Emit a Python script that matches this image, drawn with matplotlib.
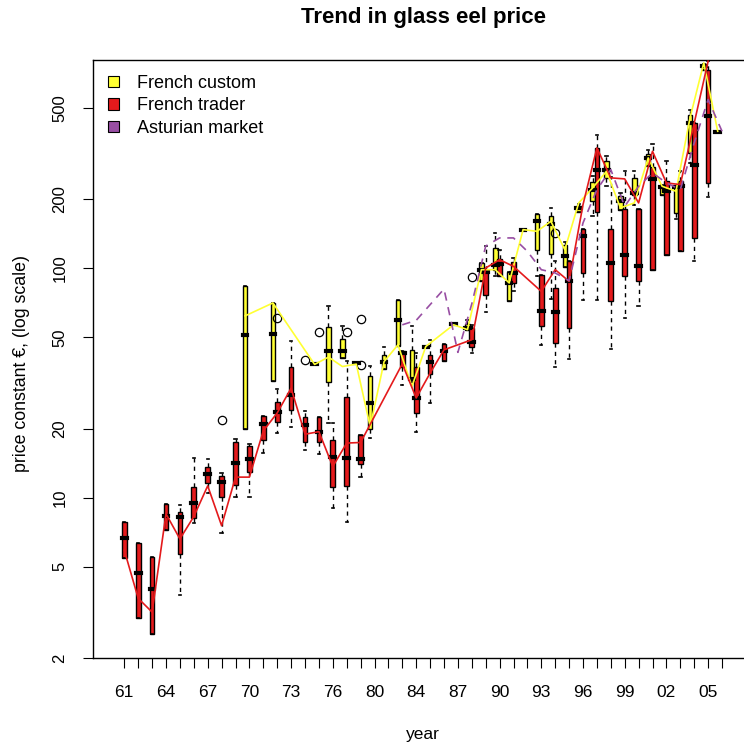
import matplotlib
matplotlib.use('Agg')
import matplotlib.pyplot as plt
from matplotlib.patches import Patch
from matplotlib.ticker import NullLocator

plt.rcParams['font.family'] = ['Liberation Sans', 'DejaVu Sans']

# ---------------- data ----------------
years = ['61', '62', '63', '64', '65', '66', '67', '68', '69', '70', '71', '72', '73', '74',
         '75', '76', '77', '78', '80', '82', '83', '84', '85', '86', '87', '88', '89', '90',
         '91', '92', '93', '94', '95', '96', '97', '98', '99', '00', '01', '02', '03', '04',
         '05', '06']

# French custom (yellow) boxes: index into years
custom_idx = [9, 11, 14, 15, 16, 17, 18, 19, 20, 21, 22, 24, 25, 26, 27, 28, 29, 30, 31,
              32, 33, 34, 35, 36, 37, 38, 39, 40, 41, 42, 43]
custom_lo = [19.9, 32.3, 38.1, 21.1, 40.6, 38.6, 18.2, 36.4, 46.0, 32.0, 45.6, 56.9, 53.6,
             87.7, 92.8, 72, 147.4, 92.2, 73.7, 100.9, 176.6, 169.6, 227.8, 180.2, 188.2,
             278.4, 209.4, 164.6, 288, 735, 393]
custom_q1 = [19.9, 32.3, 38.1, 31.9, 40.6, 38.6, 19.9, 36.4, 46.0, 32.0, 45.6, 56.9, 53.6,
             87.7, 98.6, 72, 147.4, 120.5, 115.8, 100.9, 176.6, 195.8, 247.8, 180.2, 209.4,
             278.4, 209.4, 174.3, 318.4, 735, 393]
custom_med = [51.3, 51.8, 38.1, 43.4, 43.7, 38.6, 25.8, 39.2, 59.7, 33.0, 45.6, 56.9, 55.0,
              98.6, 103.7, 86, 147.4, 160.2, 156.5, 112.7, 183.8, 220.3, 269.2, 195.8, 213,
              302.8, 225.5, 225, 430.4, 760, 393]
custom_q3 = [83.4, 70.6, 38.1, 55.4, 49.3, 38.6, 33.8, 42.0, 72.9, 44.1, 45.6, 56.9, 57.3,
             105.5, 122.6, 96, 147.4, 173, 168.4, 125.9, 187.6, 237, 292.8, 207.4, 247.8,
             315.2, 230, 227.8, 467.8, 778.6, 393]
custom_hi = [83.4, 70.6, 38.1, 68.7, 56.2, 38.6, 37.6, 45.2, 72.9, 55.8, 45.6, 56.9, 59.5,
             105.5, 142.6, 96, 147.4, 173, 183.3, 130, 190, 251.7, 307.8, 212, 264.8,
             327, 230, 227.8, 492, 778.6, 393]

# French trader (red) boxes
trader_idx = [0, 1, 2, 3, 4, 5, 6, 7, 8, 9, 10, 11, 12, 13, 14, 15, 16, 17, 20, 21, 22, 23,
              25, 26, 27, 28, 30, 31, 32, 33, 34, 35, 36, 37, 38, 39, 40, 41, 42]
trader_lo = [5.48, 2.98, 2.55, 7.24, 3.77, 7.79, 10.46, 7.0, 10.05, 10.05, 15.73, 19.2, 20.4,
             16.2, 15.5, 9.0, 7.82, 12.36, 31.1, 19.3, 25.8, 39.6, 42.7, 64.2, 92.8, 79.3,
             46.4, 37.3, 40.2, 72.9, 72.9, 44.6, 60.7, 68.2, 98.6, 114.7, 118.5, 107.9, 203.8]
trader_q1 = [5.48, 2.98, 2.55, 7.24, 5.69, 8.19, 11.64, 10.05, 11.37, 12.92, 17.87, 21.35,
             24.2, 17.57, 17.57, 11.11, 11.26, 14.04, 37.2, 23.37, 34.7, 39.6, 45.5, 76.7,
             92.8, 86.3, 56.2, 47.2, 54.9, 95.4, 175.4, 71.7, 92.8, 88.3, 98.6, 114.7, 118.5,
             135.6, 235.6]
trader_med = [6.66, 4.68, 4.0, 8.35, 8.27, 9.52, 12.67, 11.75, 14.23, 14.77, 20.92, 23.6,
              28.1, 20.77, 19.42, 15.1, 14.96, 14.77, 42.8, 27.2, 38.9, 43.4, 47.6, 96.6,
              104.7, 95.4, 64.9, 64.2, 88.3, 138.8, 269.2, 105.8, 114.7, 101.9, 246, 216.6,
              227.8, 283.2, 459.8]
trader_q3 = [7.82, 6.33, 5.50, 9.40, 8.65, 11.11, 13.58, 12.45, 17.47, 16.83, 22.81, 26.0,
             37.1, 22.58, 22.36, 17.87, 27.6, 18.8, 43.4, 37.3, 42.0, 46.9, 55.1, 98.6,
             109.8, 106, 93.8, 82.0, 107.2, 148.4, 334.8, 148.4, 181.5, 181.8, 275.6, 239.5,
             241, 429, 735]
trader_hi = [7.82, 6.33, 5.50, 9.40, 9.30, 14.96, 14.72, 12.79, 18.05, 17.17, 22.81, 29.7,
             48.0, 23.9, 22.36, 21.1, 39.6, 18.8, 43.4, 42.7, 48.5, 46.9, 56.7, 124.6,
             120.5, 111, 93.8, 107.2, 107.2, 148.4, 382.8, 251, 266.6, 181.8, 348.6, 292.8,
             264.8, 429, 799]
trader_outliers = {7: [21.7], 11: [61.0], 13: [39.9], 14: [52.7], 16: [52.7],
                   17: [60.1, 38.0], 25: [91.2], 31: [142.6]}

# trend lines
custom_line_idx = [9, 11, 14, 15, 16, 17, 18, 19, 20, 21, 22, 24, 25, 26, 27, 28, 29, 30, 31,
                   32, 33, 34, 35, 36, 37, 38, 39, 40, 41, 42, 43]
custom_line = [62, 70.6, 38.1, 41.0, 37.3, 38.2, 20.4, 39.2, 46.4, 30.5, 45.6, 56.7, 54.0,
               98.6, 98.6, 86.3, 147.4, 144.9, 160.2, 120.5, 192.7, 224, 264.8, 183.3, 192.7,
               302.8, 227.8, 216.6, 450, 786.6, 395.8]
trader_line_idx = [0, 1, 2, 3, 4, 5, 6, 7, 8, 9, 10, 11, 12, 13, 14, 15, 16, 17, 20, 21, 22,
                   23, 25, 26, 27, 28, 30, 31, 32, 33, 34, 35, 36, 37, 38, 39, 40, 41, 42]
trader_line = [5.9, 3.64, 3.17, 8.5, 6.61, 8.27, 11.26, 7.55, 12.29, 12.29, 19.56, 23.4, 30.0,
               18.9, 19.4, 13.67, 17.3, 17.4, 38.3, 27.2, 34.9, 44.1, 48.8, 100.3, 109, 101.9,
               79.3, 98.6, 87.7, 189.4, 334.8, 247.8, 245.3, 192.7, 323.6, 235.6, 231.6, 429,
               799]
astur_line_idx = [20, 21, 22, 23, 24, 25, 26, 27, 28, 29, 30, 31, 32, 33, 34, 35, 36, 37, 38,
                  39, 40, 41, 42, 43]
astur_line = [56.7, 59.3, 69.4, 81.2, 43.0, 70, 125, 135.6, 135.6, 118.5, 98.6, 95.4, 88.3,
              157.6, 220.3, 269.2, 186.2, 227.8, 260.4, 235.6, 220.3, 352, 544, 395.8]

series_names = ['French custom', 'French trader', 'Asturian market']
col_yellow = '#FFFF33'
col_red = '#E41A1C'
col_purple = '#984EA3'

# ---------------- figure ----------------
W, H = 744, 742
fig = plt.figure(figsize=(W / 100, H / 100), dpi=100)
ax = fig.add_axes([93 / W, (H - 658) / H, (753 - 93) / W, (658 - 60) / H])

YOFF = -0.31  # custom boxes shifted left of the tick


def make_stats(lo, q1, med, q3, hi, idx, outl):
    st = []
    for k, i in enumerate(idx):
        st.append(dict(whislo=lo[k], q1=q1[k], med=med[k], q3=q3[k], whishi=hi[k],
                       fliers=outl.get(i, [])))
    return st


common = dict(patch_artist=True, showfliers=True, manage_ticks=False,
              medianprops=dict(color='black', linewidth=3, solid_capstyle='projecting'),
              whiskerprops=dict(color='black', linestyle=(0, (3, 3)), linewidth=1),
              capprops=dict(color='black', linewidth=1.2),
              flierprops=dict(marker='o', markerfacecolor='none', markeredgecolor='black',
                              markersize=6, markeredgewidth=0.9))

ax.bxp(make_stats(custom_lo, custom_q1, custom_med, custom_q3, custom_hi, custom_idx, {}),
       positions=[i + YOFF for i in custom_idx], widths=0.32,
       boxprops=dict(facecolor=col_yellow, edgecolor='black', linewidth=1), zorder=2, **common)
ax.bxp(make_stats(trader_lo, trader_q1, trader_med, trader_q3, trader_hi, trader_idx,
                  trader_outliers),
       positions=trader_idx, widths=0.34,
       boxprops=dict(facecolor=col_red, edgecolor='black', linewidth=1), zorder=2, **common)

ax.plot([i + YOFF for i in custom_line_idx], custom_line, color=col_yellow, lw=1.2, zorder=3)
ax.plot(trader_line_idx, trader_line, color=col_red, lw=1.2, zorder=3)
ax.plot(astur_line_idx, astur_line, color=col_purple, lw=1.2, linestyle=(0, (5, 4)), zorder=3)

ax.set_yscale('log')
ax.set_ylim(2, 809)
ax.set_xlim((93 - 124.3) / 13.9, (753 - 124.3) / 13.9)

ax.set_yticks([2, 5, 10, 20, 50, 100, 200, 500])
ax.set_yticklabels(['2', '5', '10', '20', '50', '100', '200', '500'], rotation=90,
                   va='center', fontsize=12)
ax.yaxis.set_minor_locator(NullLocator())
ax.set_xticks(range(len(years)))
ax.set_xticklabels([y if i % 3 == 0 else '' for i, y in enumerate(years)], fontsize=12.5)
ax.tick_params(axis='both', direction='out', length=7, width=0.8, color='black')
ax.tick_params(axis='x', pad=12.5)
ax.tick_params(axis='y', pad=11.5)
for s in ax.spines.values():
    s.set_linewidth(1)
    s.set_color('black')
ax.spines['right'].set_visible(False)

fig.text(423 / W, 1 - 18 / H, 'Trend in glass eel price', ha='center', va='center',
         fontsize=16, fontweight='bold')
fig.text(423 / W, 1 - 735 / H, 'year', ha='center', va='center', fontsize=12.5)
fig.text(22 / W, 1 - 364 / H, 'price constant €, (log scale)', ha='center', va='center',
         rotation=90, fontsize=12.8)

handles = [Patch(facecolor=c, edgecolor='black', linewidth=0.8)
           for c in (col_yellow, col_red, col_purple)]
ax.legend(handles, series_names, loc='upper left', bbox_to_anchor=(108 / W, 1 - 75 / H),
          bbox_transform=fig.transFigure, frameon=False, fontsize=13, borderpad=0,
          handlelength=0.6, handleheight=0.6, handletextpad=1.0, labelspacing=0.3,
          borderaxespad=0)

fig.savefig('out.png', dpi=100)
